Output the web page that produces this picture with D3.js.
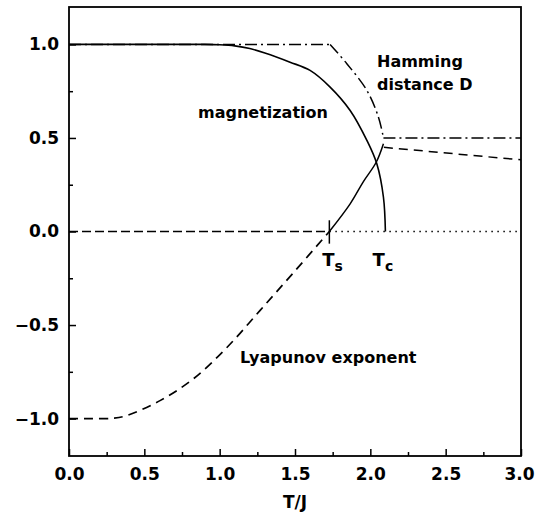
<!DOCTYPE html>
<html>
<head>
<meta charset="utf-8">
<script src="https://cdn.jsdelivr.net/npm/d3@7"></script>
<style>
  body { margin: 0; background: #fff; }
  text { font-family: "DejaVu Sans", sans-serif; fill: #000; }
</style>
</head>
<body>
<svg id="chart"></svg>
<script>
// magnetization (solid)
var magT = [0, 0.5, 0.9, 1.0, 1.1, 1.2, 1.3, 1.467, 1.6, 1.733, 1.866, 1.977, 2.043, 2.087, 2.1];
var magM = [1, 1, 1, 0.998, 0.992, 0.978, 0.954, 0.905, 0.861, 0.772, 0.647, 0.487, 0.362, 0.183, 0];

// hamming distance (dash-dot), flat part then drop, then flat at 0.5
var hamFlatT = [0, 1.733];
var hamFlatD = [1, 1];
var hamDropT = [1.733, 1.844, 1.977, 2.054, 2.087];
var hamDropD = [1, 0.897, 0.754, 0.611, 0.5];
var hamHighT = [2.087, 3.0];
var hamHighD = [0.5, 0.5];

// lyapunov exponent
var lyaLowT = [0, 0.15, 0.3, 0.383, 0.604, 0.826, 1.048, 1.27, 1.49, 1.728];
var lyaLowL = [-1, -1, -0.998, -0.984, -0.904, -0.787, -0.62, -0.42, -0.22, 0];
var lyaMidT = [1.728, 1.866, 1.955, 2.039, 2.087];
var lyaMidL = [0, 0.148, 0.268, 0.37, 0.469];
var lyaHighT = [2.09, 3.0];
var lyaHighL = [0.45, 0.383];

// zero line
var zeroDashT = [0, 1.728];
var zeroDotT = [1.728, 3.0];

var Ts = 1.728;

var xTicks = [0, 0.5, 1.0, 1.5, 2.0, 2.5, 3.0];
var xMinor = [0.25, 0.75, 1.25, 1.75, 2.25, 2.75];
var yTicks = [-1.0, -0.5, 0.0, 0.5, 1.0];
var yMinor = [-0.75, -0.25, 0.25, 0.75];

var width = 535, height = 518;
var plotL = 69, plotR = 521, plotT = 7, plotB = 456;

var svg = d3.select("#chart")
  .attr("width", width)
  .attr("height", height);

var x = d3.scaleLinear().domain([0, 3]).range([plotL, plotR]);
var y = d3.scaleLinear().domain([-1.2, 1.2]).range([plotB, plotT]);

function pts(xs, ys) {
  return xs.map(function(d, i) { return [d, ys[i]]; });
}

var line = d3.line()
  .x(function(d) { return x(d[0]); })
  .y(function(d) { return y(d[1]); });
var smooth = d3.line()
  .x(function(d) { return x(d[0]); })
  .y(function(d) { return y(d[1]); })
  .curve(d3.curveCatmullRom.alpha(0.5));

// axes, ticks pointing inward
var fmt = d3.format(".1f");
svg.append("g")
  .attr("transform", "translate(0," + plotB + ")")
  .call(d3.axisBottom(x).tickValues(xTicks).tickFormat(fmt).tickSizeInner(-7).tickSizeOuter(0).tickPadding(12));
svg.append("g")
  .attr("transform", "translate(0," + plotB + ")")
  .call(d3.axisBottom(x).tickValues(xMinor).tickFormat("").tickSizeInner(-4).tickSizeOuter(0));
svg.append("g")
  .attr("transform", "translate(" + plotL + ",0)")
  .call(d3.axisLeft(y).tickValues(yTicks).tickFormat(fmt).tickSizeInner(-7).tickSizeOuter(0).tickPadding(10));
svg.append("g")
  .attr("transform", "translate(" + plotL + ",0)")
  .call(d3.axisLeft(y).tickValues(yMinor).tickFormat("").tickSizeInner(-4).tickSizeOuter(0));

svg.selectAll(".domain").remove();
svg.selectAll(".tick line").attr("stroke", "#000").attr("stroke-width", 1.5);
svg.selectAll(".tick text")
  .style("font-size", "17px")
  .style("font-weight", "bold");
// last x label sits against the window edge
svg.selectAll(".tick text").filter(function(d) { return d === 3.0; }).attr("dx", -2);

svg.append("rect")
  .attr("x", plotL).attr("y", plotT)
  .attr("width", plotR - plotL).attr("height", plotB - plotT)
  .attr("fill", "none").attr("stroke", "#000").attr("stroke-width", 1.8);

svg.append("text")
  .attr("x", x(1.5)).attr("y", 508)
  .attr("text-anchor", "middle")
  .style("font-size", "17px").style("font-weight", "bold")
  .text("T/J");

var plot = svg.append("g").attr("fill", "none").attr("stroke", "#000");

// zero line
plot.append("path").attr("d", line(pts(zeroDashT, [0, 0])))
  .attr("stroke-width", 1.5).attr("stroke-dasharray", "9,4");
plot.append("path").attr("d", line(pts(zeroDotT, [0, 0])))
  .attr("stroke-width", 1.5).attr("stroke-dasharray", "1.5,4.5");

// magnetization
plot.append("path").attr("d", smooth(pts(magT, magM)))
  .attr("stroke-width", 1.6);

// hamming distance
var dashDot = "12,4,2,4";
plot.append("path").attr("d", line(pts(hamFlatT, hamFlatD)))
  .attr("stroke-width", 1.5).attr("stroke-dasharray", dashDot);
plot.append("path").attr("d", smooth(pts(hamDropT, hamDropD)))
  .attr("stroke-width", 1.5).attr("stroke-dasharray", dashDot);
plot.append("path").attr("d", line(pts(hamHighT, hamHighD)))
  .attr("stroke-width", 1.5).attr("stroke-dasharray", dashDot);

// lyapunov exponent
plot.append("path").attr("d", smooth(pts(lyaLowT, lyaLowL)))
  .attr("stroke-width", 1.7).attr("stroke-dasharray", "9,6");
plot.append("path").attr("d", smooth(pts(lyaMidT, lyaMidL)))
  .attr("stroke-width", 1.5);
plot.append("path").attr("d", line(pts(lyaHighT, lyaHighL)))
  .attr("stroke-width", 1.5).attr("stroke-dasharray", "9,6");

// mark at Ts
plot.append("path").attr("d", line([[Ts, 0.06], [Ts, -0.065]]))
  .attr("stroke-width", 1.5);

// labels
function label(txt, tx, ty) {
  return svg.append("text").attr("x", tx).attr("y", ty)
    .style("font-size", "16px").style("font-weight", "bold").text(txt);
}
label("magnetization", 198, 118);
label("Hamming", 377, 67);
label("distance D", 377, 90);
label("Lyapunov exponent", 240, 363);

function sub(main, s, cx) {
  var t = svg.append("text").attr("x", x(cx) - 6).attr("y", 266)
    .style("font-size", "18px").style("font-weight", "bold");
  t.append("tspan").text(main);
  t.append("tspan").attr("dy", 5).style("font-size", "14px").text(s);
}
sub("T", "s", 1.72);
sub("T", "c", 2.055);
</script>
</body>
</html>
